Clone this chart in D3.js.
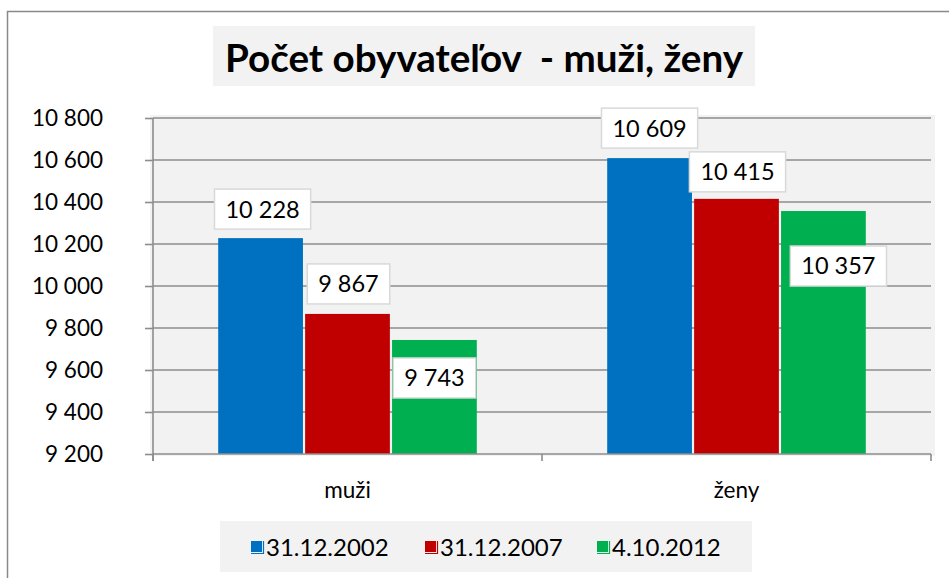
<!DOCTYPE html>
<html>
<head>
<meta charset="utf-8">
<script src="https://cdn.jsdelivr.net/npm/d3@7"></script>
<style>
  html, body { margin: 0; padding: 0; background: #ffffff; }
  svg { display: block; }
  text { font-family: Lato, "Open Sans", sans-serif; fill: #000; }
</style>
</head>
<body>
<svg id="chart" width="949" height="578"></svg>
<script>
// ---- data ----
const title = "Počet obyvateľov  - muži, ženy";
const categories = ["muži", "ženy"];
const seriesNames = ["31.12.2002", "31.12.2007", "4.10.2012"];
const values2002 = [10228, 10609];
const values2007 = [9867, 10415];
const values2012 = [9743, 10357];
const yTicks = [9200, 9400, 9600, 9800, 10000, 10200, 10400, 10600, 10800];

// ---- styling / layout ----
const colors = ["#0070C0", "#C00000", "#00B050"];
const seriesValues = [values2002, values2007, values2012];
// manual label placement (pixels) per series, per category: [dx, dy of box bottom from bar top]
const labelPlacement = [
  [[2, -9], [0, -10]],
  [[1, -10], [1, -7]],
  [[0, 58], [15, 75]]
];

const svg = d3.select("#chart");
const fmt = v => d3.format(",")(v).replace(/,/g, " ");

// outer chart border
svg.append("rect").attr("x", 7.5).attr("y", 11.5).attr("width", 1000).attr("height", 1000)
  .attr("fill", "none").attr("stroke", "#898989").attr("stroke-width", 1.5);

const plot = { left: 153, right: 931, top: 118, bottom: 454 };

const x = d3.scaleBand().domain(categories).range([plot.left, plot.right]).paddingInner(0).paddingOuter(0);
const xs = d3.scaleBand().domain(seriesNames).range([0, x.bandwidth()]).paddingInner(0.025).paddingOuter(0.75);
const y = d3.scaleLinear().domain([9200, 10800]).range([plot.bottom, plot.top]);

// plot background
svg.append("rect").attr("x", 150).attr("y", 115).attr("width", 785).attr("height", 341).attr("fill", "#f2f2f2");

// gridlines
svg.append("g").selectAll("line").data(yTicks.slice(1)).join("line")
  .attr("x1", plot.left).attr("x2", plot.right)
  .attr("y1", d => y(d)).attr("y2", d => y(d))
  .attr("stroke", "#8c8c8c").attr("stroke-width", 1.6);

// bars
const seriesData = seriesNames.map((s, i) => ({ name: s, color: colors[i], idx: i,
  values: categories.map((c, j) => ({ cat: c, value: seriesValues[i][j], j })) }));

const gBars = svg.append("g");
seriesData.forEach(s => {
  gBars.selectAll(null).data(s.values).join("rect")
    .attr("x", d => x(d.cat) + xs(s.name))
    .attr("width", xs.bandwidth())
    .attr("y", d => y(d.value))
    .attr("height", d => y(9200) - y(d.value))
    .attr("fill", s.color);
});

// axes
const yAxis = d3.axisLeft(y).tickValues(yTicks).tickSize(8).tickFormat(fmt);
const gy = svg.append("g").attr("transform", `translate(${plot.left},0)`).call(yAxis);
gy.select(".domain").attr("d", `M0,${plot.top}V${plot.bottom + 7}`).attr("stroke", "#8c8c8c").attr("stroke-width", 1.6);
gy.selectAll(".tick line").attr("stroke", "#8c8c8c").attr("stroke-width", 1.6);
gy.selectAll(".tick text").attr("x", -50).attr("font-size", 22.5).attr("fill", "#000")
  .style("font-family", "Lato, sans-serif");

const xAxis = d3.axisBottom(x).tickSize(0).tickSizeOuter(0);
const gx = svg.append("g").attr("transform", `translate(0,${plot.bottom})`).call(xAxis);
gx.select(".domain").attr("d", `M${plot.left},0H${plot.right}`).attr("stroke", "#8c8c8c").attr("stroke-width", 1.6);
gx.selectAll(".tick text").attr("y", 28).attr("dy", "0.71em").attr("font-size", 22.5).attr("fill", "#000")
  .style("font-family", "Lato, sans-serif");
// x tick marks at category boundaries
const bounds = [plot.left, plot.left + x.step(), plot.right];
gx.selectAll(".bnd").data(bounds).join("line").attr("class", "bnd")
  .attr("x1", d => d).attr("x2", d => d).attr("y1", 0).attr("y2", 7)
  .attr("stroke", "#8c8c8c").attr("stroke-width", 1.6);

// data labels
const gLab = svg.append("g");
seriesData.forEach(s => {
  s.values.forEach(d => {
    const [dx, dy] = labelPlacement[s.idx][d.j];
    const cx = x(d.cat) + xs(s.name) + xs.bandwidth() / 2 + dx;
    const bottom = y(d.value) + dy;
    const g = gLab.append("g");
    const t = g.append("text").attr("x", cx).attr("y", bottom - 20).attr("dy", "0.36em")
      .attr("text-anchor", "middle").attr("font-size", 23.5).text(fmt(d.value));
    const w = t.node().getComputedTextLength() + 22;
    g.insert("rect", "text").attr("x", cx - w / 2).attr("y", bottom - 40).attr("width", w).attr("height", 40)
      .attr("fill", "#fff").attr("stroke", "#d9d9d9").attr("stroke-width", 1.5);
  });
});

// title
svg.append("rect").attr("x", 213).attr("y", 26).attr("width", 542).attr("height", 60).attr("fill", "#f2f2f2");
const tt = svg.append("text").attr("x", 484).attr("y", 72).attr("text-anchor", "middle")
  .style("white-space", "pre")
  .attr("font-weight", "bold").attr("font-size", 34).text(title);
const tw = tt.node().getComputedTextLength();
tt.attr("font-size", 34 * 518 / tw);

// legend
svg.append("rect").attr("x", 220).attr("y", 521).attr("width", 532).attr("height", 51).attr("fill", "#f2f2f2");
const legendX = [251, 425, 597];
seriesData.forEach((s, i) => {
  const lx = legendX[i], ly = 541;
  svg.append("rect").attr("x", lx).attr("y", ly).attr("width", 11).attr("height", 11).attr("fill", s.color);
  svg.append("path").attr("d", `M${lx},${ly + 12.5}H${lx + 12.5}V${ly}`).attr("fill", "none")
    .attr("stroke", s.color).attr("stroke-width", 1.2);
  svg.append("text").attr("x", lx + 15).attr("y", 547).attr("dy", "0.36em").attr("font-size", 24).text(s.name);
});
</script>
</body>
</html>
